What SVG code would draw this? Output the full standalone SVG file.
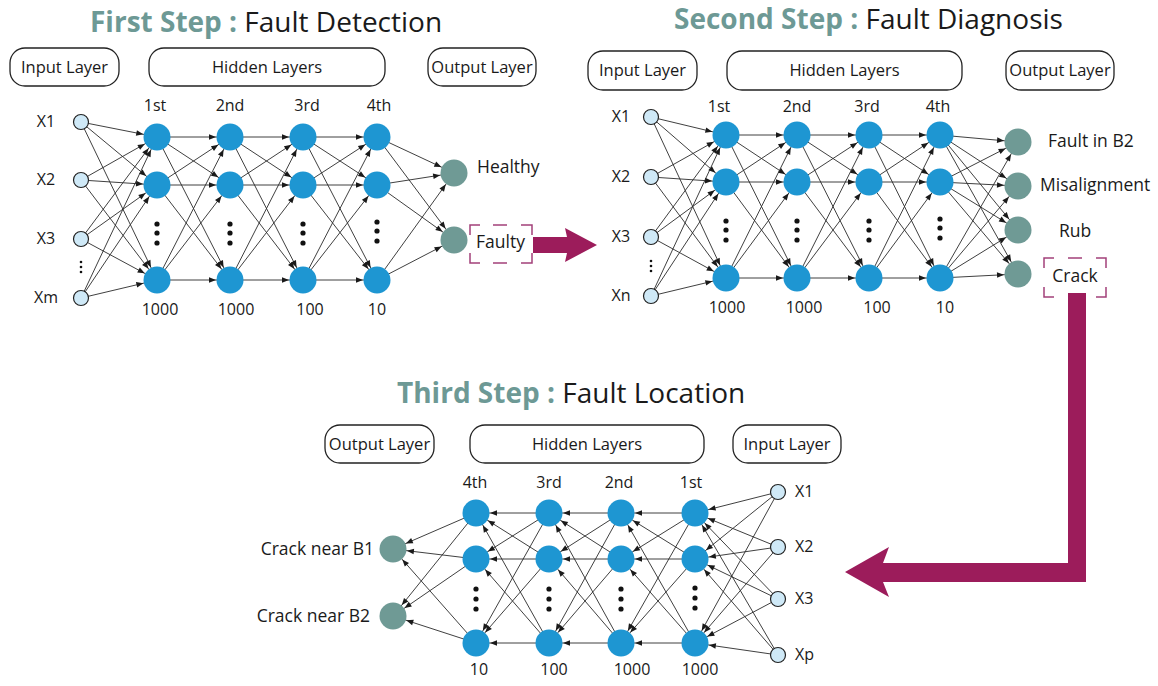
<svg xmlns="http://www.w3.org/2000/svg" width="1158" height="686" viewBox="0 0 1158 686">
<defs>
<style>
text{font-family:"Open Sans","Noto Sans","Liberation Sans",sans-serif;fill:#1a1a1a}
.t{font-size:28px}
.tb{font-weight:bold;fill:#6d9995}
.bl{font-size:16.5px;text-anchor:middle}
.sm{font-size:16px;text-anchor:middle}
.sl{font-size:16px;text-anchor:start}
.ol{font-size:17.5px}
.box{fill:none;stroke:#222;stroke-width:1.3}
.c line{stroke:#2a2a2a;stroke-width:0.9;marker-end:url(#ah)}
.in{fill:#cfe9f7;stroke:#222;stroke-width:1.2}
.hd{fill:#1e96d2}
.out{fill:#6f9a95}
.dot{fill:#111}
.dash{fill:none;stroke:#a2407a;stroke-width:1.5}
.big{fill:#9c1c5b}
</style>
<marker id="ah" markerUnits="userSpaceOnUse" viewBox="0 0 24 8" markerWidth="24" markerHeight="8" refX="21" refY="4" orient="auto" overflow="visible">
<path d="M0,1.2 L7,4 L0,6.8 z" fill="#1a1a1a"/>
</marker>
</defs>
<rect width="1158" height="686" fill="#fff"/>

<!-- Titles -->
<text class="t" x="90" y="32"><tspan class="tb">First Step :</tspan> Fault Detection</text>
<text class="t" x="674" y="29"><tspan class="tb">Second Step :</tspan> Fault Diagnosis</text>
<text class="t" x="397" y="403"><tspan class="tb">Third Step :</tspan> Fault Location</text>

<!-- Layer boxes -->
<g id="n1-boxes">
<rect class="box" x="10" y="48" width="109" height="38" rx="15"/><text class="bl" x="64.5" y="73">Input Layer</text>
<rect class="box" x="149" y="48" width="236" height="38" rx="15"/><text class="bl" x="267" y="73">Hidden Layers</text>
<rect class="box" x="428" y="48" width="108" height="38" rx="15"/><text class="bl" x="482" y="73">Output Layer</text>
</g>
<g id="n2-boxes">
<rect class="box" x="588" y="51" width="109" height="39" rx="15"/><text class="bl" x="642.5" y="76">Input Layer</text>
<rect class="box" x="727" y="51" width="235" height="39" rx="15"/><text class="bl" x="844.5" y="76">Hidden Layers</text>
<rect class="box" x="1006" y="51" width="108" height="39" rx="15"/><text class="bl" x="1060" y="76">Output Layer</text>
</g>
<g id="n3-boxes">
<rect class="box" x="325" y="425" width="109" height="38" rx="15"/><text class="bl" x="379.5" y="450">Output Layer</text>
<rect class="box" x="470" y="425" width="234" height="38" rx="15"/><text class="bl" x="587" y="450">Hidden Layers</text>
<rect class="box" x="733" y="425" width="108" height="38" rx="15"/><text class="bl" x="787" y="450">Input Layer</text>
</g>

<!-- Connectors -->
<g id="connectors" class="c">
<!-- N1 input -> 1st -->
<line x1="81" y1="122" x2="157" y2="137"/><line x1="81" y1="122" x2="157" y2="185"/><line x1="81" y1="122" x2="157" y2="280"/>
<line x1="81" y1="180" x2="157" y2="137"/><line x1="81" y1="180" x2="157" y2="185"/><line x1="81" y1="180" x2="157" y2="280"/>
<line x1="81" y1="239" x2="157" y2="137"/><line x1="81" y1="239" x2="157" y2="185"/><line x1="81" y1="239" x2="157" y2="280"/>
<line x1="81" y1="298" x2="157" y2="137"/><line x1="81" y1="298" x2="157" y2="185"/><line x1="81" y1="298" x2="157" y2="280"/>
<!-- N1 1st -> 2nd -->
<line x1="157" y1="137" x2="230" y2="137"/><line x1="157" y1="137" x2="230" y2="185"/><line x1="157" y1="137" x2="230" y2="280"/>
<line x1="157" y1="185" x2="230" y2="137"/><line x1="157" y1="185" x2="230" y2="185"/><line x1="157" y1="185" x2="230" y2="280"/>
<line x1="157" y1="280" x2="230" y2="137"/><line x1="157" y1="280" x2="230" y2="185"/><line x1="157" y1="280" x2="230" y2="280"/>
<!-- N1 2nd -> 3rd -->
<line x1="230" y1="137" x2="303" y2="137"/><line x1="230" y1="137" x2="303" y2="185"/><line x1="230" y1="137" x2="303" y2="280"/>
<line x1="230" y1="185" x2="303" y2="137"/><line x1="230" y1="185" x2="303" y2="185"/><line x1="230" y1="185" x2="303" y2="280"/>
<line x1="230" y1="280" x2="303" y2="137"/><line x1="230" y1="280" x2="303" y2="185"/><line x1="230" y1="280" x2="303" y2="280"/>
<!-- N1 3rd -> 4th -->
<line x1="303" y1="137" x2="377" y2="137"/><line x1="303" y1="137" x2="377" y2="185"/><line x1="303" y1="137" x2="377" y2="280"/>
<line x1="303" y1="185" x2="377" y2="137"/><line x1="303" y1="185" x2="377" y2="185"/><line x1="303" y1="185" x2="377" y2="280"/>
<line x1="303" y1="280" x2="377" y2="137"/><line x1="303" y1="280" x2="377" y2="185"/><line x1="303" y1="280" x2="377" y2="280"/>
<!-- N1 4th -> output -->
<line x1="377" y1="137" x2="454" y2="173"/><line x1="377" y1="137" x2="454" y2="240"/>
<line x1="377" y1="185" x2="454" y2="173"/><line x1="377" y1="185" x2="454" y2="240"/>
<line x1="377" y1="280" x2="454" y2="173"/><line x1="377" y1="280" x2="454" y2="240"/>

<!-- N2 input -> 1st -->
<line x1="651" y1="117" x2="726" y2="135"/><line x1="651" y1="117" x2="726" y2="182"/><line x1="651" y1="117" x2="726" y2="278"/>
<line x1="651" y1="177" x2="726" y2="135"/><line x1="651" y1="177" x2="726" y2="182"/><line x1="651" y1="177" x2="726" y2="278"/>
<line x1="651" y1="237" x2="726" y2="135"/><line x1="651" y1="237" x2="726" y2="182"/><line x1="651" y1="237" x2="726" y2="278"/>
<line x1="651" y1="296" x2="726" y2="135"/><line x1="651" y1="296" x2="726" y2="182"/><line x1="651" y1="296" x2="726" y2="278"/>
<!-- N2 1st -> 2nd -->
<line x1="726" y1="135" x2="797" y2="135"/><line x1="726" y1="135" x2="797" y2="182"/><line x1="726" y1="135" x2="797" y2="278"/>
<line x1="726" y1="182" x2="797" y2="135"/><line x1="726" y1="182" x2="797" y2="182"/><line x1="726" y1="182" x2="797" y2="278"/>
<line x1="726" y1="278" x2="797" y2="135"/><line x1="726" y1="278" x2="797" y2="182"/><line x1="726" y1="278" x2="797" y2="278"/>
<!-- N2 2nd -> 3rd -->
<line x1="797" y1="135" x2="869" y2="135"/><line x1="797" y1="135" x2="869" y2="182"/><line x1="797" y1="135" x2="869" y2="278"/>
<line x1="797" y1="182" x2="869" y2="135"/><line x1="797" y1="182" x2="869" y2="182"/><line x1="797" y1="182" x2="869" y2="278"/>
<line x1="797" y1="278" x2="869" y2="135"/><line x1="797" y1="278" x2="869" y2="182"/><line x1="797" y1="278" x2="869" y2="278"/>
<!-- N2 3rd -> 4th -->
<line x1="869" y1="135" x2="940" y2="135"/><line x1="869" y1="135" x2="940" y2="182"/><line x1="869" y1="135" x2="940" y2="278"/>
<line x1="869" y1="182" x2="940" y2="135"/><line x1="869" y1="182" x2="940" y2="182"/><line x1="869" y1="182" x2="940" y2="278"/>
<line x1="869" y1="278" x2="940" y2="135"/><line x1="869" y1="278" x2="940" y2="182"/><line x1="869" y1="278" x2="940" y2="278"/>
<!-- N2 4th -> output -->
<line x1="940" y1="135" x2="1018" y2="142"/><line x1="940" y1="135" x2="1018" y2="186"/><line x1="940" y1="135" x2="1018" y2="230"/><line x1="940" y1="135" x2="1018" y2="274"/>
<line x1="940" y1="182" x2="1018" y2="142"/><line x1="940" y1="182" x2="1018" y2="186"/><line x1="940" y1="182" x2="1018" y2="230"/><line x1="940" y1="182" x2="1018" y2="274"/>
<line x1="940" y1="278" x2="1018" y2="142"/><line x1="940" y1="278" x2="1018" y2="186"/><line x1="940" y1="278" x2="1018" y2="230"/><line x1="940" y1="278" x2="1018" y2="274"/>

<!-- N3 input -> 1st -->
<line x1="778" y1="492" x2="695" y2="513"/><line x1="778" y1="492" x2="695" y2="559"/><line x1="778" y1="492" x2="695" y2="643"/>
<line x1="778" y1="547" x2="695" y2="513"/><line x1="778" y1="547" x2="695" y2="559"/><line x1="778" y1="547" x2="695" y2="643"/>
<line x1="778" y1="599" x2="695" y2="513"/><line x1="778" y1="599" x2="695" y2="559"/><line x1="778" y1="599" x2="695" y2="643"/>
<line x1="778" y1="655" x2="695" y2="513"/><line x1="778" y1="655" x2="695" y2="559"/><line x1="778" y1="655" x2="695" y2="643"/>
<!-- N3 1st -> 2nd -->
<line x1="695" y1="513" x2="621" y2="513"/><line x1="695" y1="513" x2="621" y2="559"/><line x1="695" y1="513" x2="621" y2="643"/>
<line x1="695" y1="559" x2="621" y2="513"/><line x1="695" y1="559" x2="621" y2="559"/><line x1="695" y1="559" x2="621" y2="643"/>
<line x1="695" y1="643" x2="621" y2="513"/><line x1="695" y1="643" x2="621" y2="559"/><line x1="695" y1="643" x2="621" y2="643"/>
<!-- N3 2nd -> 3rd -->
<line x1="621" y1="513" x2="549" y2="513"/><line x1="621" y1="513" x2="549" y2="559"/><line x1="621" y1="513" x2="549" y2="643"/>
<line x1="621" y1="559" x2="549" y2="513"/><line x1="621" y1="559" x2="549" y2="559"/><line x1="621" y1="559" x2="549" y2="643"/>
<line x1="621" y1="643" x2="549" y2="513"/><line x1="621" y1="643" x2="549" y2="559"/><line x1="621" y1="643" x2="549" y2="643"/>
<!-- N3 3rd -> 4th -->
<line x1="549" y1="513" x2="476" y2="513"/><line x1="549" y1="513" x2="476" y2="559"/><line x1="549" y1="513" x2="476" y2="643"/>
<line x1="549" y1="559" x2="476" y2="513"/><line x1="549" y1="559" x2="476" y2="559"/><line x1="549" y1="559" x2="476" y2="643"/>
<line x1="549" y1="643" x2="476" y2="513"/><line x1="549" y1="643" x2="476" y2="559"/><line x1="549" y1="643" x2="476" y2="643"/>
<!-- N3 4th -> output -->
<line x1="476" y1="513" x2="393" y2="549"/><line x1="476" y1="513" x2="393" y2="616"/>
<line x1="476" y1="559" x2="393" y2="549"/><line x1="476" y1="559" x2="393" y2="616"/>
<line x1="476" y1="643" x2="393" y2="549"/><line x1="476" y1="643" x2="393" y2="616"/>
</g>

<!-- Network 1 nodes -->
<g id="n1-input">
<circle class="in" cx="81" cy="122" r="7.5"/><circle class="in" cx="81" cy="180" r="7.5"/><circle class="in" cx="81" cy="239" r="7.5"/><circle class="in" cx="81" cy="298" r="7.5"/>
<circle class="dot" cx="81" cy="262" r="1.3"/><circle class="dot" cx="81" cy="267" r="1.3"/><circle class="dot" cx="81" cy="272" r="1.3"/>
<text class="sm" x="46" y="127">X1</text><text class="sm" x="46" y="185">X2</text><text class="sm" x="46" y="244">X3</text><text class="sm" x="46" y="303">Xm</text>
</g>
<g id="n1-hidden">
<circle class="hd" cx="157" cy="137" r="13.5"/><circle class="hd" cx="157" cy="185" r="13.5"/><circle class="hd" cx="157" cy="280" r="13.5"/>
<circle class="hd" cx="230" cy="137" r="13.5"/><circle class="hd" cx="230" cy="185" r="13.5"/><circle class="hd" cx="230" cy="280" r="13.5"/>
<circle class="hd" cx="303" cy="137" r="13.5"/><circle class="hd" cx="303" cy="185" r="13.5"/><circle class="hd" cx="303" cy="280" r="13.5"/>
<circle class="hd" cx="377" cy="137" r="13.5"/><circle class="hd" cx="377" cy="185" r="13.5"/><circle class="hd" cx="377" cy="280" r="13.5"/>
<circle class="dot" cx="157" cy="224" r="2.6"/><circle class="dot" cx="157" cy="233" r="2.6"/><circle class="dot" cx="157" cy="243" r="2.6"/>
<circle class="dot" cx="230" cy="224" r="2.6"/><circle class="dot" cx="230" cy="233" r="2.6"/><circle class="dot" cx="230" cy="243" r="2.6"/>
<circle class="dot" cx="303" cy="224" r="2.6"/><circle class="dot" cx="303" cy="233" r="2.6"/><circle class="dot" cx="303" cy="243" r="2.6"/>
<circle class="dot" cx="377" cy="222" r="2.6"/><circle class="dot" cx="377" cy="231" r="2.6"/><circle class="dot" cx="377" cy="241" r="2.6"/>
<text class="sm" x="155" y="111">1st</text><text class="sm" x="230" y="111">2nd</text><text class="sm" x="307" y="111">3rd</text><text class="sm" x="379" y="111">4th</text>
<text class="sm" x="160" y="315">1000</text><text class="sm" x="236" y="315">1000</text><text class="sm" x="310" y="315">100</text><text class="sm" x="377" y="315">10</text>
</g>
<g id="n1-output">
<circle class="out" cx="454" cy="173" r="13.5"/><circle class="out" cx="454" cy="240" r="13.5"/>
<text class="ol" x="477" y="173">Healthy</text>
<path class="dash" d="M470,235 V225 H480 M493,225 H507 M521,225 H532 V235 M532,253 V263 H521 M507,263 H493 M480,263 H470 V253"/>
<text class="ol" x="476" y="248">Faulty</text>
</g>

<!-- Network 2 nodes -->
<g id="n2-input">
<circle class="in" cx="651" cy="117" r="7.5"/><circle class="in" cx="651" cy="177" r="7.5"/><circle class="in" cx="651" cy="237" r="7.5"/><circle class="in" cx="651" cy="296" r="7.5"/>
<circle class="dot" cx="651" cy="261" r="1.3"/><circle class="dot" cx="651" cy="266" r="1.3"/><circle class="dot" cx="651" cy="271" r="1.3"/>
<text class="sm" x="621" y="122">X1</text><text class="sm" x="621" y="182">X2</text><text class="sm" x="621" y="242">X3</text><text class="sm" x="621" y="301">Xn</text>
</g>
<g id="n2-hidden">
<circle class="hd" cx="726" cy="135" r="13.5"/><circle class="hd" cx="726" cy="182" r="13.5"/><circle class="hd" cx="726" cy="278" r="13.5"/>
<circle class="hd" cx="797" cy="135" r="13.5"/><circle class="hd" cx="797" cy="182" r="13.5"/><circle class="hd" cx="797" cy="278" r="13.5"/>
<circle class="hd" cx="869" cy="135" r="13.5"/><circle class="hd" cx="869" cy="182" r="13.5"/><circle class="hd" cx="869" cy="278" r="13.5"/>
<circle class="hd" cx="940" cy="135" r="13.5"/><circle class="hd" cx="940" cy="182" r="13.5"/><circle class="hd" cx="940" cy="278" r="13.5"/>
<circle class="dot" cx="726" cy="221" r="2.6"/><circle class="dot" cx="726" cy="230" r="2.6"/><circle class="dot" cx="726" cy="240" r="2.6"/>
<circle class="dot" cx="797" cy="221" r="2.6"/><circle class="dot" cx="797" cy="230" r="2.6"/><circle class="dot" cx="797" cy="240" r="2.6"/>
<circle class="dot" cx="869" cy="221" r="2.6"/><circle class="dot" cx="869" cy="230" r="2.6"/><circle class="dot" cx="869" cy="240" r="2.6"/>
<circle class="dot" cx="940" cy="219" r="2.6"/><circle class="dot" cx="940" cy="228" r="2.6"/><circle class="dot" cx="940" cy="238" r="2.6"/>
<text class="sm" x="719" y="112">1st</text><text class="sm" x="797" y="112">2nd</text><text class="sm" x="867" y="112">3rd</text><text class="sm" x="938" y="112">4th</text>
<text class="sm" x="727" y="313">1000</text><text class="sm" x="804" y="313">1000</text><text class="sm" x="877" y="313">100</text><text class="sm" x="945" y="313">10</text>
</g>
<g id="n2-output">
<circle class="out" cx="1018" cy="142" r="13.5"/><circle class="out" cx="1018" cy="186" r="13.5"/><circle class="out" cx="1018" cy="230" r="13.5"/><circle class="out" cx="1018" cy="274" r="13.5"/>
<text class="ol" x="1048" y="147">Fault in B2</text>
<text class="ol" x="1040" y="191">Misalignment</text>
<text class="ol" x="1075" y="237" text-anchor="middle">Rub</text>
<path class="dash" d="M1044,268 V258 H1054 M1068,258 H1082 M1096,258 H1106 V268 M1106,287 V297 H1096 M1082,297 H1068 M1054,297 H1044 V287"/>
<text class="ol" x="1075" y="282" text-anchor="middle">Crack</text>
</g>

<!-- Network 3 nodes -->
<g id="n3-input">
<circle class="in" cx="778" cy="492" r="7.5"/><circle class="in" cx="778" cy="547" r="7.5"/><circle class="in" cx="778" cy="599" r="7.5"/><circle class="in" cx="778" cy="655" r="7.5"/>
<text class="sl" x="795" y="497">X1</text><text class="sl" x="795" y="552">X2</text><text class="sl" x="795" y="604">X3</text><text class="sl" x="795" y="660">Xp</text>
</g>
<g id="n3-hidden">
<circle class="hd" cx="695" cy="513" r="13.5"/><circle class="hd" cx="695" cy="559" r="13.5"/><circle class="hd" cx="695" cy="643" r="13.5"/>
<circle class="hd" cx="621" cy="513" r="13.5"/><circle class="hd" cx="621" cy="559" r="13.5"/><circle class="hd" cx="621" cy="643" r="13.5"/>
<circle class="hd" cx="549" cy="513" r="13.5"/><circle class="hd" cx="549" cy="559" r="13.5"/><circle class="hd" cx="549" cy="643" r="13.5"/>
<circle class="hd" cx="476" cy="513" r="13.5"/><circle class="hd" cx="476" cy="559" r="13.5"/><circle class="hd" cx="476" cy="643" r="13.5"/>
<circle class="dot" cx="695" cy="588" r="2.6"/><circle class="dot" cx="695" cy="598" r="2.6"/><circle class="dot" cx="695" cy="608" r="2.6"/>
<circle class="dot" cx="621" cy="589" r="2.6"/><circle class="dot" cx="621" cy="599" r="2.6"/><circle class="dot" cx="621" cy="609" r="2.6"/>
<circle class="dot" cx="549" cy="589" r="2.6"/><circle class="dot" cx="549" cy="599" r="2.6"/><circle class="dot" cx="549" cy="609" r="2.6"/>
<circle class="dot" cx="476" cy="589" r="2.6"/><circle class="dot" cx="476" cy="599" r="2.6"/><circle class="dot" cx="476" cy="609" r="2.6"/>
<text class="sm" x="475" y="488">4th</text><text class="sm" x="549" y="488">3rd</text><text class="sm" x="619" y="488">2nd</text><text class="sm" x="691" y="488">1st</text>
<text class="sm" x="479" y="675">10</text><text class="sm" x="554" y="675">100</text><text class="sm" x="632" y="675">1000</text><text class="sm" x="700" y="675">1000</text>
</g>
<g id="n3-output">
<circle class="out" cx="393" cy="549" r="13.5"/><circle class="out" cx="393" cy="616" r="13.5"/>
<text class="ol" x="374" y="555" text-anchor="end">Crack near B1</text>
<text class="ol" x="370" y="622" text-anchor="end">Crack near B2</text>
</g>

<!-- Big step arrows -->
<g id="step-arrows">
<path class="big" d="M533,237 H567 L565,228 L597,245 L565,262 L567,253 H533 Z"/>
<path class="big" d="M1068,293 H1086 V582 H883 L889,597 L845,572 L889,547 L883,563 H1068 Z"/>
</g>
</svg>
